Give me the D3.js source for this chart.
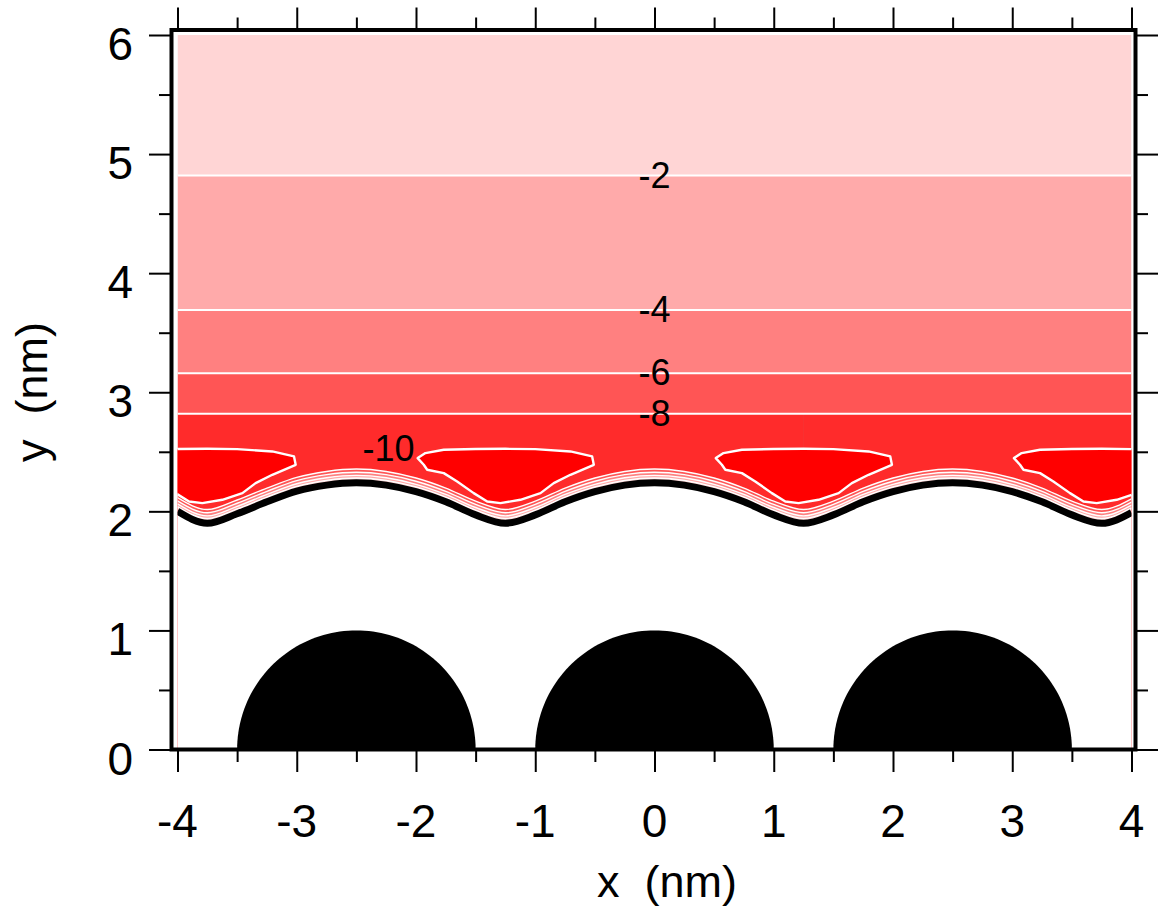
<!DOCTYPE html>
<html><head><meta charset="utf-8">
<script src="https://cdn.jsdelivr.net/npm/d3@7"></script>
<style>
body{margin:0;background:#fff}
svg{display:block}
text{font-family:"Liberation Sans",Arial,Helvetica,sans-serif;fill:#000}
</style>
</head><body>
<svg id="chart" width="1158" height="913"></svg>
<script>
// ---------------- data ----------------
const xMajorTicks = [-4, -3, -2, -1, 0, 1, 2, 3, 4];
const xMinorTicks = [-3.5, -2.5, -1.5, -0.5, 0.5, 1.5, 2.5, 3.5];
const yMajorTicks = [0, 1, 2, 3, 4, 5, 6];
const yMinorTicks = [0.5, 1.5, 2.5, 3.5, 4.5, 5.5];
const xTitle = "x  (nm)";
const yTitle = "y  (nm)";

// flat contour levels (far from the surface) and their heights (nm)
const levels = [-2, -4, -6, -8];
const levelHeights = [4.82, 3.69, 3.16, 2.82];
// fill colours of the bands, from the top band down to the -8..-10 band
const bandColors = ["#ffd5d5", "#ffaaaa", "#ff8080", "#ff5555", "#ff2b2b"];

// -10 pockets: outline (offset from pocket centre, height) and centres
const pocketLevel = -10;
const pocketColor = "#ff0000";
const pocketCenters = [-3.75, -1.25, 1.25, 3.75];
const pocketDx = [-0.736, -0.671, -0.517, -0.25, 0, 0.25, 0.545, 0.727, 0.741, 0.545, 0.405, 0.294, 0.126, -0.042, -0.153, -0.266, -0.405, -0.517, -0.656, -0.685];
const pocketY  = [ 2.447,  2.489,  2.517, 2.523, 2.525, 2.522, 2.503, 2.461, 2.391, 2.307, 2.237, 2.153, 2.097, 2.069, 2.083, 2.153, 2.251, 2.321, 2.349, 2.391];
const pocketLabelX = -2.23;

// accessible-surface boundary (thick black line)
const wallX = [-4, -3.75, -3.5, -3.25, -3, -2.75, -2.5, -2.25, -2, -1.75, -1.5, -1.25, -1, -0.75, -0.5, -0.25, 0, 0.25, 0.5, 0.75, 1, 1.25, 1.5, 1.75, 2, 2.25, 2.5, 2.75, 3, 3.25, 3.5, 3.75, 4];
const wallY = [2.00, 1.90, 1.98, 2.08, 2.17, 2.22, 2.24, 2.22, 2.165, 2.08, 1.97, 1.90, 1.97, 2.08, 2.165, 2.22, 2.24, 2.22, 2.165, 2.08, 1.97, 1.90, 1.97, 2.08, 2.165, 2.22, 2.24, 2.22, 2.165, 2.08, 1.97, 1.90, 1.99];
// thin contour lines hugging the surface (-8, -6, -4, -2): height above the wall
const wallLevelOffsets = [0.115, 0.088, 0.062, 0.040];
const wallBandColors = ["#ff5555", "#ff8080", "#ffaaaa", "#ffd5d5"];

// atoms (half discs)
const atomCenters = [-2.5, 0, 2.5];
const atomRadius = 1;

// ---------------- drawing ----------------
const svg = d3.select("#chart");
const x = d3.scaleLinear().domain([-4, 4]).range([177.5, 1131.5]);
const y = d3.scaleLinear().domain([0, 6]).range([749.5, 35]);

svg.append("defs").append("clipPath").attr("id", "plotclip")
  .append("rect")
  .attr("x", x(-4)).attr("y", y(6))
  .attr("width", x(4) - x(-4)).attr("height", y(0) - y(6));

const plot = svg.append("g").attr("clip-path", "url(#plotclip)");

// horizontal bands
const bandTops = [6].concat(levelHeights);
const bandBottoms = levelHeights.concat([0]);
bandColors.forEach((c, i) => {
  plot.append("rect")
    .attr("x", x(-4)).attr("width", x(4) - x(-4))
    .attr("y", y(bandTops[i])).attr("height", y(bandBottoms[i]) - y(bandTops[i]))
    .attr("fill", c);
});
// faint seam in the -8..-10 band
plot.append("line")
  .attr("x1", x(1.25)).attr("x2", x(1.25))
  .attr("y1", y(levelHeights[3])).attr("y2", y(2.52))
  .attr("stroke", "#f03a3a").attr("stroke-width", 0.8).attr("opacity", 0.6);

// flat contour lines
levelHeights.forEach(h => {
  plot.append("line")
    .attr("x1", x(-4)).attr("x2", x(4))
    .attr("y1", y(h)).attr("y2", y(h))
    .attr("stroke", "#fff").attr("stroke-width", 2);
});

// -10 pockets
const pocketLine = d3.line().x(d => x(d[0])).y(d => y(d[1])).curve(d3.curveLinearClosed);
pocketCenters.forEach(c => {
  const pts = pocketDx.map((dx, i) => [c + dx, pocketY[i]]);
  plot.append("path").attr("d", pocketLine(pts))
    .attr("fill", pocketColor).attr("stroke", "#fff").attr("stroke-width", 2.4)
    .attr("stroke-linejoin", "round");
});

// near-wall thin bands
const wallPts = wallX.map((v, i) => [v, wallY[i]]);
wallLevelOffsets.forEach((off, k) => {
  const area = d3.area().x(d => x(d[0])).y0(y(0)).y1(d => y(d[1] + off)).curve(d3.curveMonotoneX);
  const line = d3.line().x(d => x(d[0])).y(d => y(d[1] + off)).curve(d3.curveMonotoneX);
  plot.append("path").attr("d", area(wallPts)).attr("fill", wallBandColors[k]);
  plot.append("path").attr("d", line(wallPts)).attr("fill", "none")
    .attr("stroke", "#fff").attr("stroke-width", 1.4);
});

// inaccessible region (white)
const wallArea = d3.area().x(d => x(d[0])).y0(y(0)).y1(d => y(d[1])).curve(d3.curveMonotoneX);
plot.append("path").attr("d", wallArea(wallPts)).attr("fill", "#fff");
const wallLine = d3.line().x(d => x(d[0])).y(d => y(d[1])).curve(d3.curveMonotoneX);
plot.append("path").attr("d", wallLine(wallPts)).attr("fill", "none")
  .attr("stroke", "#000").attr("stroke-width", 7).attr("stroke-linejoin", "round");

// atoms
atomCenters.forEach(c => {
  const pts = d3.range(0, 181, 2).map(a => [c + atomRadius * Math.cos(a * Math.PI / 180), atomRadius * Math.sin(a * Math.PI / 180)]);
  plot.append("path").attr("d", d3.line().x(d => x(d[0])).y(d => y(d[1]))(pts) + "Z")
    .attr("fill", "#000");
});

// contour labels
levels.forEach((lv, i) => {
  svg.append("text").attr("x", x(0)).attr("y", y(levelHeights[i]) + 12)
    .attr("text-anchor", "middle").attr("font-size", 36).text(String(lv));
});
svg.append("text").attr("x", x(pocketLabelX)).attr("y", y(2.525) + 12)
  .attr("text-anchor", "middle").attr("font-size", 36).text(String(pocketLevel));

// frame
const fx0 = x(-4) - 6, fx1 = x(4) + 4, fy0 = y(6) - 5, fy1 = y(0);
svg.append("rect").attr("x", fx0).attr("y", fy0)
  .attr("width", fx1 - fx0).attr("height", fy1 - fy0)
  .attr("fill", "none").attr("stroke", "#000").attr("stroke-width", 4);

// ticks
function tickGroup(axis, tx, ty) {
  const g = svg.append("g").attr("transform", `translate(${tx},${ty})`).call(axis);
  g.select(".domain").remove();
  g.selectAll("line").attr("stroke", "#000").attr("stroke-width", 2);
  g.selectAll("text").remove();
}
tickGroup(d3.axisBottom(x).tickValues(xMajorTicks).tickSize(21), 0, fy1 + 1.5);
tickGroup(d3.axisBottom(x).tickValues(xMinorTicks).tickSize(11), 0, fy1 + 1.5);
tickGroup(d3.axisTop(x).tickValues(xMajorTicks).tickSize(21), 0, fy0 - 1.5);
tickGroup(d3.axisTop(x).tickValues(xMinorTicks).tickSize(11), 0, fy0 - 1.5);
tickGroup(d3.axisLeft(y).tickValues(yMajorTicks).tickSize(21), fx0 - 1.5, 0);
tickGroup(d3.axisLeft(y).tickValues(yMinorTicks).tickSize(11), fx0 - 1.5, 0);
tickGroup(d3.axisRight(y).tickValues(yMajorTicks).tickSize(21), fx1 + 1.5, 0);
tickGroup(d3.axisRight(y).tickValues(yMinorTicks).tickSize(11), fx1 + 1.5, 0);

// tick labels
xMajorTicks.forEach(v => {
  svg.append("text").attr("x", x(v)).attr("y", 837).attr("text-anchor", "middle")
    .attr("font-size", 46).text(String(v));
});
yMajorTicks.forEach(v => {
  svg.append("text").attr("x", 133).attr("y", y(v) + 25).attr("text-anchor", "end")
    .attr("font-size", 46).text(String(v));
});

// axis titles
svg.append("text").attr("x", 667).attr("y", 897).attr("text-anchor", "middle")
  .attr("font-size", 45).style("white-space", "pre").text(xTitle);
svg.append("text").attr("transform", "translate(47,392) rotate(-90)").attr("text-anchor", "middle")
  .attr("font-size", 45).style("white-space", "pre").text(yTitle);
</script>
</body></html>
